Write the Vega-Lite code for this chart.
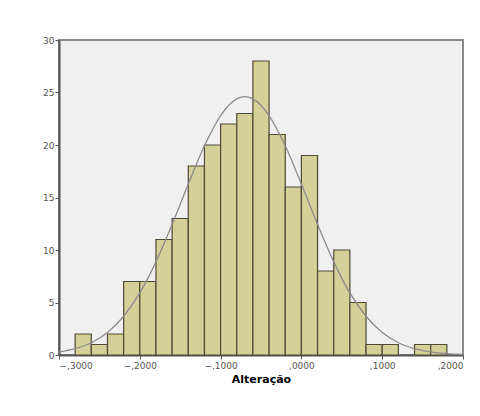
{
  "$schema": "https://vega.github.io/schema/vega-lite/v6.json",
  "width": 404,
  "height": 315,
  "autosize": {"type": "none"},
  "padding": {"left": 59, "top": 40, "right": 17, "bottom": 61},
  "background": "#ffffff",
  "config": {
    "view": {"fill": "#f0f0f0", "stroke": "#8a8a8a", "strokeWidth": 2},
    "font": "Liberation Sans",
    "axis": {"grid": false, "domainColor": "#555555", "domainWidth": 2, "tickColor": "#555555", "tickSize": 4, "labelFontSize": 9, "labelColor": "#555555", "labelFont": "DejaVu Sans"}
  },
  "datasets": {
    "bins": [
      {"lo": -0.28, "hi": -0.26, "n": 2},
      {"lo": -0.26, "hi": -0.24, "n": 1},
      {"lo": -0.24, "hi": -0.22, "n": 2},
      {"lo": -0.22, "hi": -0.20, "n": 7},
      {"lo": -0.20, "hi": -0.18, "n": 7},
      {"lo": -0.18, "hi": -0.16, "n": 11},
      {"lo": -0.16, "hi": -0.14, "n": 13},
      {"lo": -0.14, "hi": -0.12, "n": 18},
      {"lo": -0.12, "hi": -0.10, "n": 20},
      {"lo": -0.10, "hi": -0.08, "n": 22},
      {"lo": -0.08, "hi": -0.06, "n": 23},
      {"lo": -0.06, "hi": -0.04, "n": 28},
      {"lo": -0.04, "hi": -0.02, "n": 21},
      {"lo": -0.02, "hi": 0.00, "n": 16},
      {"lo": 0.00, "hi": 0.02, "n": 19},
      {"lo": 0.02, "hi": 0.04, "n": 8},
      {"lo": 0.04, "hi": 0.06, "n": 10},
      {"lo": 0.06, "hi": 0.08, "n": 5},
      {"lo": 0.08, "hi": 0.10, "n": 1},
      {"lo": 0.10, "hi": 0.12, "n": 1},
      {"lo": 0.14, "hi": 0.16, "n": 1},
      {"lo": 0.16, "hi": 0.18, "n": 1}
    ],
    "curve": [
      {"x": -0.30, "y": 0.28},
      {"x": -0.28, "y": 0.60},
      {"x": -0.26, "y": 1.17},
      {"x": -0.24, "y": 2.15},
      {"x": -0.22, "y": 3.69},
      {"x": -0.20, "y": 5.91},
      {"x": -0.18, "y": 8.87},
      {"x": -0.16, "y": 12.43},
      {"x": -0.14, "y": 16.28},
      {"x": -0.12, "y": 19.92},
      {"x": -0.10, "y": 22.80},
      {"x": -0.08, "y": 24.39},
      {"x": -0.07, "y": 24.6},
      {"x": -0.06, "y": 24.39},
      {"x": -0.04, "y": 22.80},
      {"x": -0.02, "y": 19.92},
      {"x": 0.00, "y": 16.28},
      {"x": 0.02, "y": 12.43},
      {"x": 0.04, "y": 8.87},
      {"x": 0.06, "y": 5.91},
      {"x": 0.08, "y": 3.69},
      {"x": 0.10, "y": 2.15},
      {"x": 0.12, "y": 1.17},
      {"x": 0.14, "y": 0.60},
      {"x": 0.16, "y": 0.28},
      {"x": 0.18, "y": 0.13},
      {"x": 0.20, "y": 0.05}
    ]
  },
  "layer": [
    {
      "data": {"name": "bins"},
      "mark": {"type": "rect", "fill": "#d5cf98", "stroke": "#4d4a35", "strokeWidth": 1.2},
      "encoding": {
        "x": {"field": "lo", "type": "quantitative", "scale": {"domain": [-0.3, 0.2], "nice": false, "zero": false},
          "axis": {"values": [-0.3, -0.2, -0.1, 0, 0.1, 0.2], "labelExpr": "replace(format(datum.value, '.4f'), '0.', ',')", "title": "Alteração", "titleFontSize": 11, "titleFontWeight": "bold", "titleColor": "#000000", "titlePadding": 3, "titleFont": "DejaVu Sans"}},
        "x2": {"field": "hi"},
        "y": {"field": "n", "type": "quantitative", "scale": {"domain": [0, 30], "nice": false},
          "axis": {"values": [0, 5, 10, 15, 20, 25, 30], "title": null, "labelPadding": 1}},
        "y2": {"datum": 0}
      }
    },
    {
      "data": {"name": "curve"},
      "mark": {"type": "line", "color": "#8c8c8c", "strokeWidth": 1.3, "interpolate": "monotone", "clip": true},
      "encoding": {
        "x": {"field": "x", "type": "quantitative"},
        "y": {"field": "y", "type": "quantitative"}
      }
    }
  ]
}
